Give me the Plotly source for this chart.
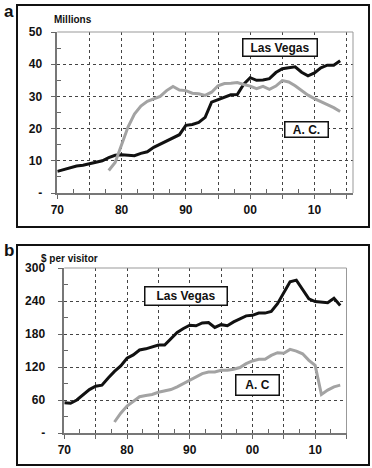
import plotly.graph_objects as go

# ---- data ----
years_lv = list(range(70, 115))  # 1970..2014
lv_visitors = [6.7, 7.3, 7.8, 8.4, 8.6, 9.1, 9.6, 10.0, 11.0, 11.7,
               11.9, 11.8, 11.6, 12.3, 12.8, 14.2, 15.2, 16.2, 17.2, 18.1,
               21.0, 21.3, 21.9, 23.5, 28.2, 29.0, 29.6, 30.5, 30.6, 33.8,
               35.8, 35.0, 35.1, 35.5, 37.4, 38.6, 38.9, 39.2, 37.5, 36.4,
               37.3, 38.9, 39.7, 39.7, 41.1]
years_ac = list(range(78, 115))  # 1978..2014
ac_visitors = [7.0, 9.5, 15.0, 20.5, 24.5, 27.0, 28.5, 29.3, 30.0, 31.8,
               33.1, 32.0, 31.8, 31.0, 30.8, 30.3, 31.3, 33.3, 34.0, 34.1,
               34.3, 33.7, 33.2, 32.4, 33.1, 32.2, 33.2, 34.9, 34.5, 33.3,
               31.8, 30.4, 29.3, 28.4, 27.3, 26.5, 25.3]
lv_per_visitor = [55, 54, 60, 70, 79, 85, 87, 100, 112, 122,
                  136, 142, 151, 153, 157, 160, 160, 172, 183, 190,
                  196, 195, 200, 201, 192, 197, 195, 202, 207, 213,
                  214, 218, 218, 221, 235, 255, 275, 278, 262, 244,
                  239, 238, 237, 245, 232]
ac_per_visitor = [20, 36, 49, 58, 66, 68, 70, 74, 77, 79,
                  84, 90, 96, 101, 108, 111, 111, 114, 114, 116,
                  119, 126, 131, 134, 134, 141, 146, 145, 152, 149,
                  144, 132, 123, 70, 78, 84, 87]

x_tickvals = [70, 75, 80, 85, 90, 95, 100, 105, 110, 115]
x_ticktext = ["70", "", "80", "", "90", "", "00", "", "10", ""]
ya_tickvals = [0, 10, 20, 30, 40, 50]
ya_ticktext = ["-", "10", "20", "30", "40", "50"]
yb_tickvals = [0, 60, 120, 180, 240, 300]
yb_ticktext = ["-", "60", "120", "180", "240", "300"]

W, H = 372, 468
FONT = "Liberation Sans, Arial, sans-serif"
BLACK = "#111111"
GRAY = "#a3a3a3"

fig = go.Figure()
fig.add_trace(go.Scatter(x=years_lv, y=lv_visitors, mode="lines",
                         line=dict(color=BLACK, width=3), xaxis="x", yaxis="y"))
fig.add_trace(go.Scatter(x=years_ac, y=ac_visitors, mode="lines",
                         line=dict(color=GRAY, width=3), xaxis="x", yaxis="y"))
fig.add_trace(go.Scatter(x=years_lv, y=lv_per_visitor, mode="lines",
                         line=dict(color=BLACK, width=3), xaxis="x2", yaxis="y2"))
fig.add_trace(go.Scatter(x=years_ac, y=ac_per_visitor, mode="lines",
                         line=dict(color=GRAY, width=3), xaxis="x2", yaxis="y2"))

tickfont = dict(family=FONT, size=12, color="#111", weight="bold")

def xaxis(domain, rng, anchor):
    return dict(domain=domain, range=rng, anchor=anchor, automargin=False,
                tickvals=x_tickvals, ticktext=x_ticktext,
                ticks="outside", ticklen=4, tickcolor="#666", tickwidth=1,
                showline=True, linecolor="#777", linewidth=1.5,
                showgrid=True, gridcolor="#444", griddash="dot", gridwidth=1,
                zeroline=False, tickfont=tickfont, ticklabelstandoff=1,
                minor=dict(tickvals=[72.5 + 5 * i for i in range(9)], ticks="inside",
                           ticklen=4, tickcolor="#666", showgrid=False))

def yaxis(domain, rng, anchor, tv, tt, minor_vals, standoff):
    return dict(domain=domain, range=rng, anchor=anchor, automargin=False,
                tickvals=tv, ticktext=tt,
                ticks="outside", ticklen=5, tickcolor="#666", tickwidth=1,
                showline=True, linecolor="#777", linewidth=1.5,
                showgrid=True, gridcolor="#444", griddash="dot", gridwidth=1,
                zeroline=False, tickfont=tickfont, ticklabelstandoff=standoff,
                minor=dict(tickvals=minor_vals, ticks="inside",
                           ticklen=4, tickcolor="#666", showgrid=False))

xa = [57.3 / W, 353.0 / W]
ya = [1 - 193.0 / H, 1 - 32.0 / H]
xb = [64.3 / W, 346.5 / W]
yb = [1 - 433.0 / H, 1 - 268.0 / H]

fig.update_layout(
    width=W, height=H,
    margin=dict(l=0, r=0, t=0, b=0),
    paper_bgcolor="white", plot_bgcolor="white",
    showlegend=False,
    xaxis=xaxis(xa, [70, 116], "y"),
    yaxis=yaxis(ya, [0, 50], "x", ya_tickvals, ya_ticktext, [5, 15, 25, 35, 45], 6),
    xaxis2=xaxis(xb, [70, 115], "y2"),
    yaxis2=yaxis(yb, [0, 300], "x2", yb_tickvals, yb_ticktext, [30, 90, 150, 210, 270], 10),
)

shapes = []
# outer panel boxes
for (x0, y0, x1, y1) in [(17, 5, 369, 227), (17, 245, 369, 465)]:
    shapes.append(dict(type="rect", xref="paper", yref="paper",
                       x0=x0 / W, x1=x1 / W, y0=1 - y1 / H, y1=1 - y0 / H,
                       line=dict(color="#111", width=2), fillcolor="rgba(0,0,0,0)"))
# top/right plot borders
for xr, yr in [("x", "y"), ("x2", "y2")]:
    shapes.append(dict(type="line", xref=xr + " domain", yref=yr + " domain",
                       x0=0, x1=1, y0=1, y1=1, line=dict(color="#999", width=1)))
    shapes.append(dict(type="line", xref=xr + " domain", yref=yr + " domain",
                       x0=1, x1=1, y0=0, y1=1, line=dict(color="#999", width=1)))
fig.update_layout(shapes=shapes)

ann = []
def txt(x, y, s, size, anchor="center"):
    ann.append(dict(x=x / W, y=1 - y / H, xref="paper", yref="paper", text=s,
                    showarrow=False, xanchor=anchor, yanchor="middle",
                    font=dict(family=FONT, size=size, color="#111", weight="bold")))

def box(x, y, s, w, h):
    ann.append(dict(x=x / W, y=1 - y / H, xref="paper", yref="paper", text=s,
                    showarrow=False, xanchor="center", yanchor="middle",
                    width=w, height=h, bgcolor="white",
                    bordercolor="#111", borderwidth=1.5, borderpad=0,
                    font=dict(family=FONT, size=12, color="#111", weight="bold")))

txt(2, 11, "a", 17, "left")
txt(2, 250, "b", 17, "left")
txt(52, 20, "Millions", 10, "left")
txt(39, 258, "$ per visitor", 10, "left")
box(280, 48, "Las Vegas", 73, 16)
box(306, 129, "A. C.", 42, 14)
box(186, 296, "Las Vegas", 81, 17)
box(257, 385, "A. C", 42, 19)
fig.update_layout(annotations=ann)

fig.write_html("out.html", config={"displayModeBar": False},
               post_script="document.body.style.margin='0px';document.body.style.overflow='hidden';")
